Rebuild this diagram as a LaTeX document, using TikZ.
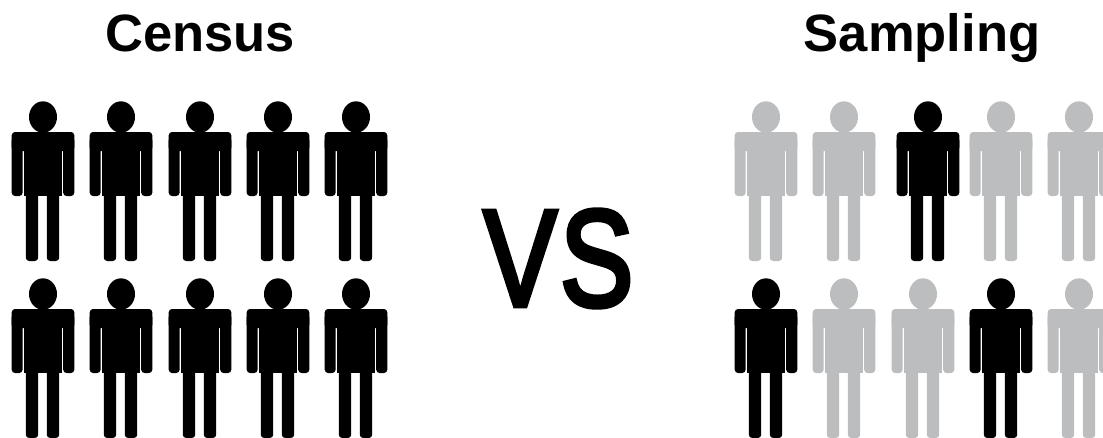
\documentclass[tikz,border=0pt]{standalone}
\usepackage{fontspec}
\setmainfont{Liberation Sans}
\newfontfamily\versusfont[FakeBold=3.8]{Liberation Sans}
\definecolor{FadedGray}{HTML}{BBBDBF}
\tikzset{
  heading/.style={font=\fontsize{39.4}{44}\selectfont\bfseries, inner sep=0, anchor=base},
  person/.pic={
    \fill (0,0) ellipse (14 and 15.7);
    \fill[rounded corners=2.5] (-31.3,15) rectangle (31.3,34);
    \fill[rounded corners=2.5] (-31.3,20) rectangle (-20.4,79);
    \fill[rounded corners=2.5] (20.2,20) rectangle (31.3,79);
    \fill (-19.5,20) rectangle (19.3,79);
    \fill[rounded corners=2.5] (-17.2,70) rectangle (-4.8,144);
    \fill[rounded corners=2.5] (3.8,70) rectangle (16.2,144);
  }
}
\begin{document}
\begin{tikzpicture}[x=0.75pt,y=-0.75pt]
\useasboundingbox (0,0) rectangle (1103,437);
\clip (0,0) rectangle (1103,437);
% headings
\node[heading] (census) at (200,51.5) {Census};
\node[heading] (sampling) at (922,51.5) {Sampling};
\node[font=\versusfont\fontsize{103}{110}\selectfont, xscale=0.8, transform shape, inner sep=0] (versus) at (558.5,258.5) {V\kern3pt S};
% census group: everybody counted
\foreach \px in {43,121,200,278,356}
  \foreach \py in {117,294}
    \pic[black] at (\px,\py) {person};
% sampling group: only some picked
\foreach \px/\py/\col in {766/117/FadedGray,844/117/FadedGray,928/117/black,1001/117/FadedGray,1079/117/FadedGray,
    766/294/black,844/294/FadedGray,923/294/FadedGray,1001/294/black,1079/294/FadedGray}
  \pic[\col] at (\px,\py) {person};
\end{tikzpicture}
\end{document}
